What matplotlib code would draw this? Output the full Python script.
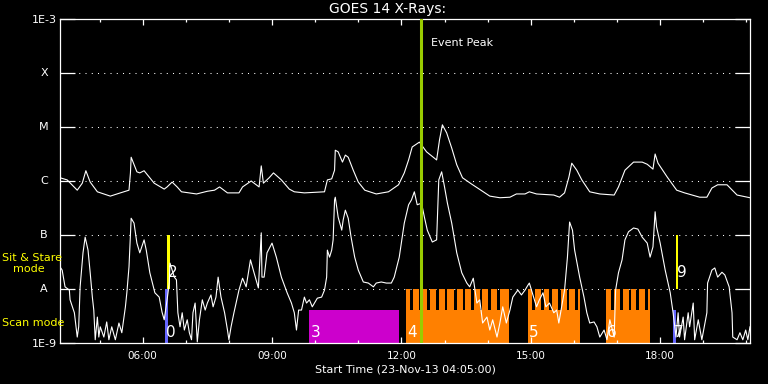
import numpy as np
import matplotlib
matplotlib.use('Agg')
import matplotlib.pyplot as plt
import matplotlib.transforms as mtransforms
from matplotlib.ticker import NullLocator

# time axis: minutes after the start time 04:05
# GOES long channel (1-8 A), log10 of flux in W/m^2
long_t = [0, 10, 24, 31, 36, 42, 52, 70, 84, 96,
          98, 99, 107, 111, 117, 131, 145, 149, 156, 163,
          169, 190, 205, 215, 222, 233, 249, 254, 266, 277,
          280, 283, 291, 297, 308, 319, 326, 340, 368, 372,
          378, 382, 383, 387, 393, 397, 401, 408, 415, 424,
          440, 457, 471, 479, 485, 490, 500, 510, 524, 528,
          532, 538, 545, 552, 560, 573, 581, 598, 612, 626,
          635, 647, 653, 663, 687, 695, 702, 708, 712, 719,
          726, 737, 751, 771, 777, 786, 798, 810, 817, 825,
          828, 832, 845, 858, 869, 890, 900, 907, 915, 928,
          942, 960]
long_lg = [-5.94, -5.98, -6.17, -6.04, -5.81, -6.02, -6.20, -6.28, -6.22, -6.17,
           -5.85, -5.56, -5.83, -5.85, -5.81, -6.04, -6.15, -6.11, -6.02, -6.11,
           -6.20, -6.24, -6.19, -6.17, -6.11, -6.22, -6.22, -6.11, -6.00, -6.11,
           -5.72, -6.04, -5.94, -5.85, -5.98, -6.15, -6.20, -6.22, -6.20, -5.98,
           -5.96, -5.80, -5.43, -5.46, -5.65, -5.52, -5.56, -5.80, -6.02, -6.17,
           -6.24, -6.20, -6.07, -5.85, -5.61, -5.37, -5.28, -5.46, -5.61, -5.24,
           -4.96, -5.11, -5.39, -5.70, -5.94, -6.06, -6.13, -6.28, -6.31, -6.30,
           -6.24, -6.24, -6.20, -6.24, -6.26, -6.30, -6.22, -5.93, -5.67, -5.80,
           -5.98, -6.20, -6.24, -6.26, -6.11, -5.80, -5.65, -5.65, -5.69, -5.78,
           -5.50, -5.67, -5.93, -6.17, -6.22, -6.30, -6.30, -6.13, -6.07, -6.07,
           -6.26, -6.31]

# GOES short channel (0.5-4 A)
short_t = [0, 3, 7, 13, 14, 20, 24, 26, 28, 32,
           35, 39, 42, 45, 47, 49, 52, 54, 56, 61,
           65, 68, 72, 77, 82, 86, 91, 93, 96, 99,
           103, 107, 111, 117, 120, 125, 132, 138, 142, 145,
           149, 152, 153, 159, 162, 164, 167, 170, 173, 177,
           180, 183, 185, 188, 191, 194, 198, 202, 205, 210,
           213, 217, 220, 224, 229, 233, 235, 238, 242, 245,
           249, 254, 259, 265, 270, 276, 280, 281, 284, 288,
           295, 301, 308, 316, 322, 326, 329, 332, 336, 340,
           343, 347, 351, 354, 358, 364, 368, 371, 372, 375,
           378, 380, 382, 383, 387, 392, 394, 397, 401, 405,
           410, 415, 422, 429, 436, 440, 447, 454, 461, 465,
           472, 479, 485, 489, 493, 497, 503, 507, 511, 518,
           524, 527, 531, 535, 539, 545, 552, 559, 566, 570,
           575, 580, 584, 588, 594, 598, 602, 608, 612, 616,
           621, 626, 630, 637, 642, 647, 651, 653, 659, 663,
           667, 672, 676, 681, 687, 691, 694, 698, 702, 706,
           709, 713, 716, 723, 729, 733, 737, 743, 747, 751,
           757, 761, 765, 771, 773, 777, 782, 786, 791, 798,
           804, 810, 817, 821, 825, 828, 830, 835, 842, 849,
           853, 857, 860, 862, 867, 869, 874, 876, 881, 883,
           888, 893, 900, 901, 907, 911, 915, 921, 925, 931,
           935, 936, 942, 946, 950, 954, 957, 960]
short_lg = [-7.59, -7.65, -7.96, -8.02, -8.20, -8.44, -8.89, -8.70, -7.96, -7.33,
            -7.04, -7.28, -7.70, -8.15, -8.39, -8.94, -8.52, -8.89, -8.70, -8.89,
            -8.61, -8.94, -8.70, -8.94, -8.63, -8.81, -8.33, -8.07, -7.59, -6.69,
            -6.78, -7.15, -7.33, -7.09, -7.28, -7.70, -8.07, -8.15, -8.43, -8.57,
            -8.20, -7.89, -7.52, -7.78, -7.83, -8.44, -8.70, -8.44, -8.76, -8.57,
            -8.81, -8.94, -8.44, -8.26, -8.98, -8.57, -8.20, -8.39, -8.26, -8.11,
            -8.33, -8.15, -7.78, -8.15, -8.44, -8.76, -8.94, -8.70, -8.44, -8.26,
            -8.02, -7.80, -7.96, -7.46, -7.70, -7.98, -6.96, -7.78, -7.78, -7.33,
            -7.15, -7.41, -7.78, -8.07, -8.26, -8.44, -8.76, -8.39, -8.39, -8.15,
            -8.26, -8.20, -8.33, -8.26, -8.17, -8.15, -8.02, -7.78, -7.28, -7.41,
            -7.28, -7.09, -6.35, -6.30, -6.67, -6.91, -6.72, -6.54, -6.69, -7.04,
            -7.41, -7.65, -7.87, -7.89, -7.96, -7.89, -7.87, -7.89, -7.89, -7.78,
            -7.41, -6.78, -6.44, -6.35, -6.20, -6.44, -6.41, -6.67, -6.91, -7.13,
            -7.09, -5.98, -5.83, -6.11, -6.41, -6.78, -7.33, -7.70, -7.89, -7.96,
            -7.80, -8.26, -8.20, -8.63, -8.52, -8.76, -8.57, -8.89, -8.63, -8.33,
            -8.63, -8.39, -8.15, -8.02, -8.11, -8.02, -7.93, -7.89, -8.15, -8.33,
            -8.20, -8.07, -8.33, -8.26, -8.44, -8.39, -8.63, -8.33, -8.02, -7.41,
            -6.76, -6.91, -7.28, -7.78, -8.15, -8.44, -8.63, -8.61, -8.70, -8.89,
            -8.76, -8.94, -8.57, -8.89, -8.02, -7.70, -7.46, -7.09, -6.94, -6.87,
            -6.89, -7.04, -7.15, -7.41, -7.22, -6.57, -6.85, -7.15, -7.65, -8.07,
            -8.44, -8.89, -8.44, -8.89, -8.52, -8.94, -8.44, -8.70, -8.26, -8.94,
            -8.57, -8.94, -8.44, -7.89, -7.65, -7.61, -7.78, -7.69, -7.74, -7.96,
            -8.44, -8.89, -8.94, -8.81, -8.94, -8.76, -8.94, -8.70]

# observing windows
win_label = ['0', '2', '3', '4', '5', '6', '7', '9']
win_start = [146, 149, 347, 481, 651, 759, 853, 857]
win_end = [150.5, 153, 472, 624, 723, 821, 857, 860]
win_kind = ['scan_a', 'sit', 'raster', 'comb', 'comb', 'comb', 'scan', 'sit']
comb_notches = {
    '4': [487, 499, 511, 523, 535, 548, 560, 572, 584, 596, 608],
    '5': [657, 669, 681, 693, 705, 717],
    '6': [767, 779, 791, 802, 814],
}

event_peak = 502.5

tick_times = [115, 295, 475, 655, 835]
tick_labels = ['06:00', '09:00', '12:00', '15:00', '18:00']
minor_times = [55, 175, 235, 355, 415, 535, 595, 715, 775, 895, 955]

decades = [1e-9, 1e-8, 1e-7, 1e-6, 1e-5, 1e-4, 1e-3]
classes = ['A', 'B', 'C', 'M', 'X']

# styles
BOT = 1e-9
SCAN_TOP = 10 ** -8.39
A_LEV = 1e-8
B_LEV = 1e-7
NOTCH = 3.8
BLUE = '#6666ff'
ORANGE = '#ff8000'
MAGENTA = '#cc00cc'
YELLOW = '#ffff00'
kind_style = {
    'scan_a': (BOT, A_LEV, BLUE),
    'scan': (BOT, SCAN_TOP, BLUE),
    'sit': (A_LEV, B_LEV, YELLOW),
    'raster': (BOT, SCAN_TOP, MAGENTA),
}

plt.rcParams['font.family'] = ['DejaVu Sans']
fig = plt.figure(figsize=(7.68, 3.84), dpi=100, facecolor='black')
ax = fig.add_axes([60 / 768, 1 - 343 / 384, 690 / 768, 324 / 384])
ax.set_facecolor('black')
ax.set_yscale('log')
ax.set_xlim(0, 960)
ax.set_ylim(1e-9, 1e-3)

for v in decades[1:-1]:
    ax.axhline(v, color='white', lw=0.75, ls=(0, (1, 5)), zorder=1)

for lab, t0, t1, kind in zip(win_label, win_start, win_end, win_kind):
    if kind == 'comb':
        ax.bar(t0, SCAN_TOP - BOT, width=t1 - t0, bottom=BOT, align='edge',
               color=ORANGE, lw=0, zorder=1.2)
        starts = [t0] + [n + NOTCH for n in comb_notches[lab]]
        ends = comb_notches[lab] + [t1]
        for s, e in zip(starts, ends):
            if e > s:
                ax.bar(s, A_LEV - SCAN_TOP, width=e - s, bottom=SCAN_TOP,
                       align='edge', color=ORANGE, lw=0, zorder=1.2)
    else:
        lo, hi, col = kind_style[kind]
        ax.bar(t0, hi - lo, width=t1 - t0, bottom=lo, align='edge',
               color=col, lw=0, zorder=1.3)

ax.plot(long_t, 10 ** np.array(long_lg), color='white', lw=0.8, zorder=2)
ax.plot(short_t, 10 ** np.array(short_lg), color='white', lw=0.8, zorder=2)

for lab, t0, kind in zip(win_label, win_start, win_kind):
    y = 2.05e-8 if kind == 'sit' else 1.55e-9
    ax.text(t0 + 1.5, y, lab, color='white', fontsize=11, ha='left',
            va='center', zorder=4)

ax.axvline(event_peak, color='#99cc00', lw=2.2, zorder=3)
ax.text(event_peak + 14, 3.6e-4, 'Event Peak', color='white', fontsize=8,
        ha='left', va='center')

# axes cosmetics
for sp in ax.spines.values():
    sp.set_color('white')
    sp.set_linewidth(0.9)
ax.set_yticks(decades)
ax.set_yticklabels(['1E-9', '', '', '', '', '', '1E-3'])
ax.yaxis.set_minor_locator(NullLocator())
ax.tick_params(axis='y', which='major', direction='in', length=10.5,
               width=0.9, color='white', labelcolor='white', labelsize=8,
               left=True, right=True, pad=2)
ax.set_xticks(tick_times)
ax.set_xticklabels(tick_labels)
ax.set_xticks(minor_times, minor=True)
ax.tick_params(axis='x', which='major', direction='in', length=4.5, width=0.9,
               color='white', labelcolor='white', labelsize=7.5,
               top=True, bottom=True, pad=6)
ax.tick_params(axis='x', which='minor', direction='in', length=2.3, width=0.9,
               color='white', top=True, bottom=True)

tr = mtransforms.blended_transform_factory(fig.transFigure, ax.transData)
for v, c in zip(decades[1:-1], classes):
    ax.text(44 / 768, v, c, transform=tr, color='white', fontsize=8,
            ha='center', va='center')

fig.text(0.504, 1 - 9 / 384, 'GOES 14 X-Rays:', color='white', fontsize=10,
         ha='center', va='center')
fig.text(405 / 768, 1 - 369 / 384, 'Start Time (23-Nov-13 04:05:00)',
         color='white', fontsize=8, ha='center', va='center')
fig.text(2 / 768, 1 - 258 / 384, 'Sit & Stare', color=YELLOW, fontsize=8,
         ha='left', va='center')
fig.text(13 / 768, 1 - 269 / 384, 'mode', color=YELLOW, fontsize=8,
         ha='left', va='center')
fig.text(2 / 768, 1 - 323 / 384, 'Scan mode', color=YELLOW, fontsize=8,
         ha='left', va='center')

fig.savefig('out.png', dpi=100, facecolor='black')
